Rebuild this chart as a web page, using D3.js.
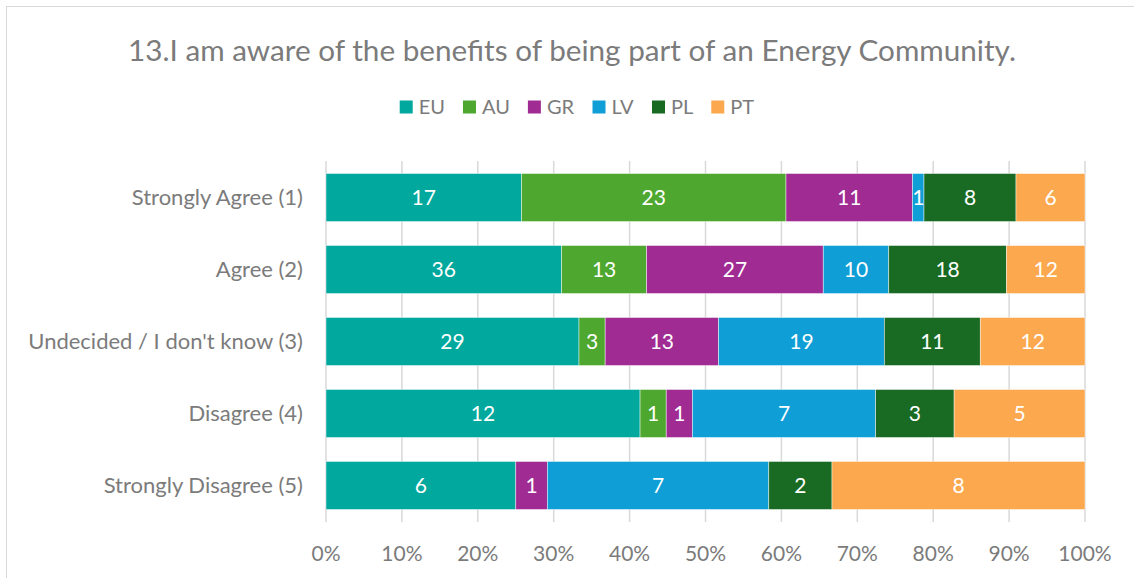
<!DOCTYPE html>
<html>
<head>
<meta charset="utf-8">
<script src="https://cdn.jsdelivr.net/npm/d3@7"></script>
<style>
  body { margin: 0; background: #fff; }
  svg text { font-family: Lato, "Open Sans", sans-serif; }
</style>
</head>
<body>
<script>
var width = 1134, height = 578;

var categories = ["Strongly Agree (1)", "Agree (2)", "Undecided / I don't know (3)", "Disagree (4)", "Strongly Disagree (5)"];
var seriesNames = ["EU", "AU", "GR", "LV", "PL", "PT"];
var colors = ["#00A89D", "#4EA72E", "#A02B93", "#0F9ED5", "#196B24", "#FBA84E"];
var EU = [17, 36, 29, 12, 6];
var AU = [23, 13, 3, 1, 0];
var GR = [11, 27, 13, 1, 1];
var LV = [1, 10, 19, 7, 7];
var PL = [8, 18, 11, 3, 2];
var PT = [6, 12, 12, 5, 8];
var xTicks = [0, 0.1, 0.2, 0.3, 0.4, 0.5, 0.6, 0.7, 0.8, 0.9, 1];

var seriesValues = [EU, AU, GR, LV, PL, PT];
var textColor = "#7b7b7b";

// rows for the stack, in percent of each category's total
var rows = categories.map(function (c, i) {
    var row = { cat: c };
    var total = 0;
    seriesNames.forEach(function (s, j) { total += seriesValues[j][i]; });
    seriesNames.forEach(function (s, j) {
        row[s] = seriesValues[j][i] / total;
        row[s + "_raw"] = seriesValues[j][i];
    });
    return row;
});

var svg = d3.select("body")
    .append("svg")
    .attr("width", width)
    .attr("height", height);

// chart frame
svg.append("rect")
    .attr("x", 6.5).attr("y", 6.5)
    .attr("width", width + 10).attr("height", height + 10)
    .attr("fill", "none")
    .attr("stroke", "#d9d9d9");

var margin = { left: 326, right: 49, top: 161, bottom: 56 };

var x = d3.scaleLinear()
    .domain([0, 1])
    .range([margin.left, width - margin.right]);

var y = d3.scaleBand()
    .domain(categories)
    .range([margin.top, height - margin.bottom])
    .paddingInner(0.333)
    .paddingOuter(0.174);

// gridlines
svg.append("g")
    .selectAll("line")
    .data(xTicks)
    .enter()
    .append("line")
    .attr("x1", function (d) { return x(d); })
    .attr("x2", function (d) { return x(d); })
    .attr("y1", margin.top)
    .attr("y2", height - margin.bottom)
    .attr("stroke", "#d9d9d9")
    .attr("stroke-width", 1.5);

var stack = d3.stack().keys(seriesNames);
var stacked = stack(rows);

var groups = svg.append("g")
    .selectAll("g")
    .data(stacked)
    .enter()
    .append("g")
    .attr("fill", function (d, i) { return colors[i]; });

groups.selectAll("rect")
    .data(function (d) { return d.filter(function (p) { return p[1] - p[0] > 0; }); })
    .enter()
    .append("rect")
    .attr("x", function (d) { return x(d[0]); })
    .attr("y", function (d) { return y(d.data.cat); })
    .attr("width", function (d) { return x(d[1]) - x(d[0]); })
    .attr("height", y.bandwidth())
    .attr("stroke", "#ffffff")
    .attr("stroke-opacity", 0.6)
    .attr("stroke-width", 0.75);

// value labels
stacked.forEach(function (layer) {
    svg.append("g")
        .selectAll("text")
        .data(layer.filter(function (p) { return p[1] - p[0] > 0; }))
        .enter()
        .append("text")
        .attr("x", function (d) { return (x(d[0]) + x(d[1])) / 2; })
        .attr("y", function (d) { return y(d.data.cat) + y.bandwidth() / 2; })
        .attr("dy", "0.36em")
        .attr("text-anchor", "middle")
        .attr("fill", "#ffffff")
        .attr("font-size", 21)
        .text(function (d) { return d.data[layer.key + "_raw"]; });
});

// category labels
svg.append("g")
    .selectAll("text")
    .data(categories)
    .enter()
    .append("text")
    .attr("x", margin.left - 23)
    .attr("y", function (d) { return y(d) + y.bandwidth() / 2; })
    .attr("dy", "0.36em")
    .attr("text-anchor", "end")
    .attr("fill", textColor)
    .attr("font-size", 22)
    .text(function (d) { return d; });

// x tick labels
svg.append("g")
    .selectAll("text")
    .data(xTicks)
    .enter()
    .append("text")
    .attr("x", function (d) { return x(d); })
    .attr("y", 553)
    .attr("dy", "0.36em")
    .attr("text-anchor", "middle")
    .attr("fill", textColor)
    .attr("font-size", 21)
    .text(function (d) { return d3.format(".0%")(d); });

// title
svg.append("text")
    .attr("x", 572)
    .attr("y", 50)
    .attr("dy", "0.36em")
    .attr("text-anchor", "middle")
    .attr("fill", textColor)
    .attr("font-size", 29.7)
    .text("13.I am aware of the benefits of being part of an Energy Community.");

// legend, laid out from measured text widths and centred
var legend = svg.append("g");
var items = legend.selectAll("g")
    .data(seriesNames)
    .enter()
    .append("g");
items.append("rect")
    .attr("x", 0).attr("y", -6.5)
    .attr("width", 13).attr("height", 13)
    .attr("fill", function (d, i) { return colors[i]; });
items.append("text")
    .attr("x", 19)
    .attr("dy", "0.36em")
    .attr("fill", textColor)
    .attr("font-size", 20)
    .text(function (d) { return d; });
var gap = 18;
var pos = 0;
items.each(function () {
    var w = this.getBBox().width;
    d3.select(this).attr("transform", "translate(" + pos + ",0)");
    pos += w + gap;
});
var legendW = pos - gap;
legend.attr("transform", "translate(" + (577 - legendW / 2) + ",107)");
</script>
</body>
</html>
